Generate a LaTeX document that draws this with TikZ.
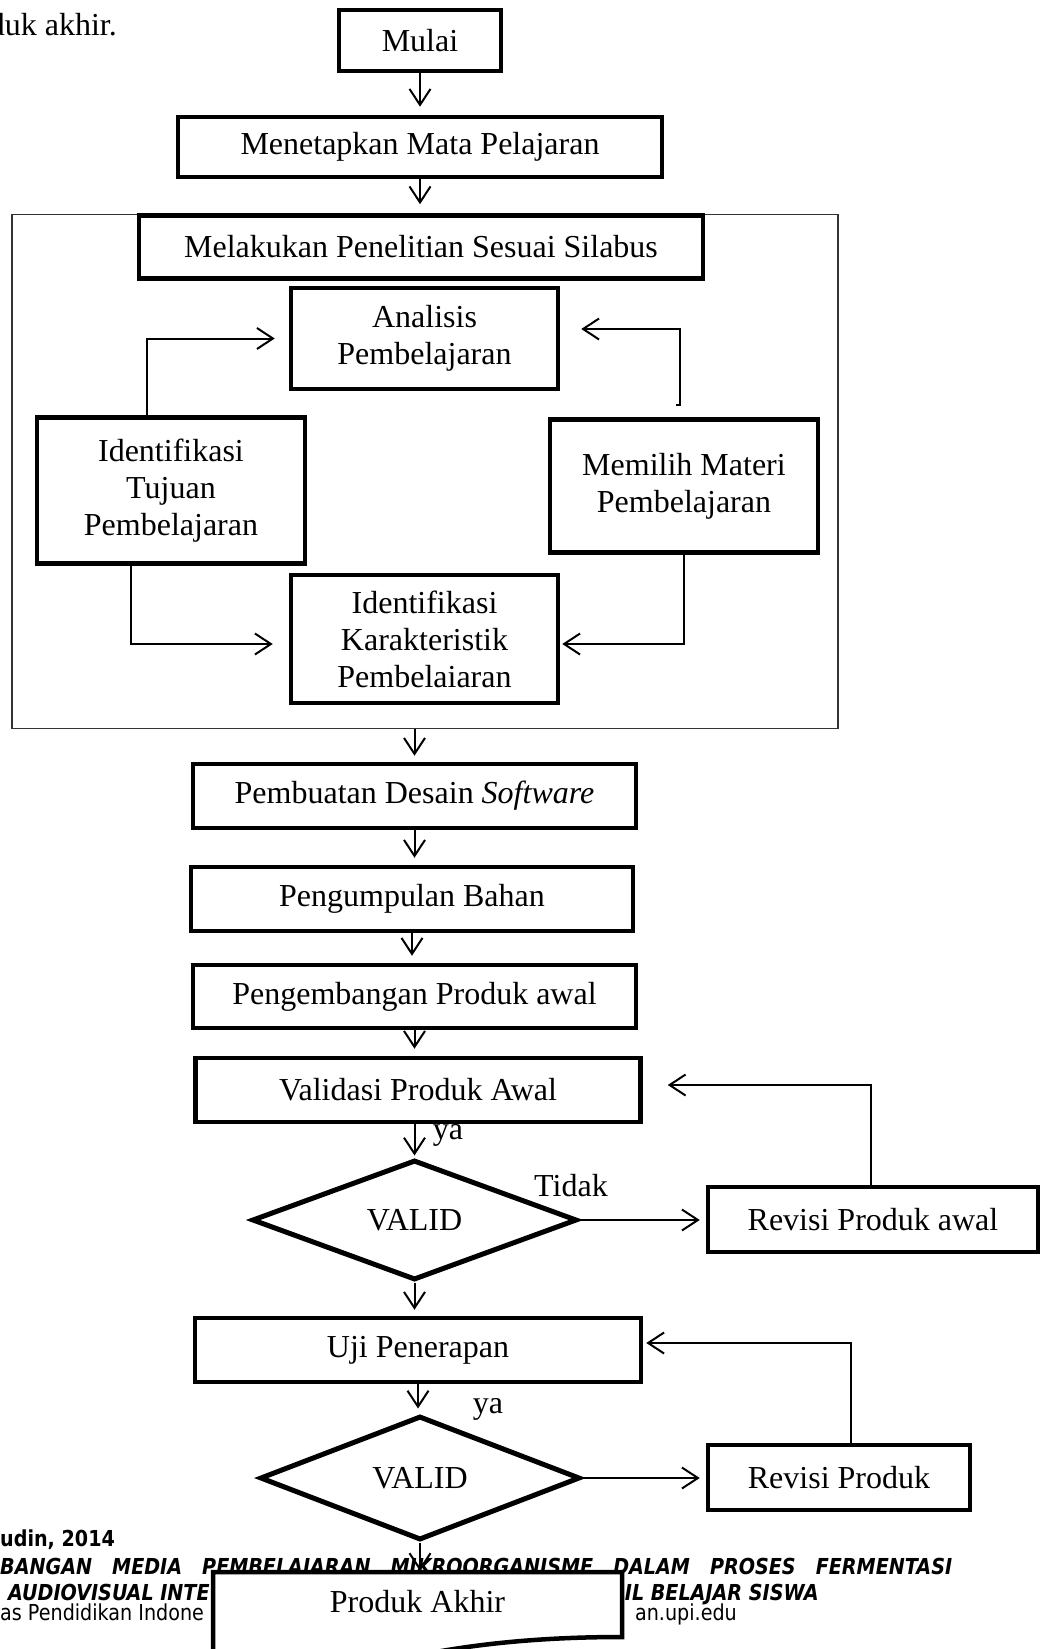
\documentclass[tikz,border=0pt]{standalone}
\usepackage{fontspec}
\setmainfont{Liberation Serif}
\newfontfamily\footfont{DejaVu Sans}[FakeStretch=0.87,BoldFont={DejaVu Sans Bold},ItalicFont={DejaVu Sans Oblique},BoldItalicFont={DejaVu Sans Bold Oblique}]
\usetikzlibrary{shapes.geometric,arrows.meta,calc}
\tikzset{
  box/.style={draw,line width=4.5pt,fill=white,inner sep=0pt,align=center,font=\fontsize{32}{37}\selectfont},
  dia/.style={draw,diamond,line width=5pt,fill=white,inner sep=0pt,aspect=2.7,font=\fontsize{32}{37}\selectfont},
  arr/.style={line width=2pt,-{Straight Barb[length=16pt,width=21pt]}},
  lbl/.style={inner sep=0pt,font=\fontsize{32}{37}\selectfont},
  foot/.style={inner sep=0pt,font=\footfont\fontsize{22}{26}\selectfont},
  framebox/.style={draw=black!80,line width=1.5pt,inner sep=0pt},
}
\begin{document}
\begin{tikzpicture}[x=1pt,y=-1pt]
\useasboundingbox (0,0) rectangle (1041,1649);
\fill[white] (0,0) rectangle (1041,1649);

% text cut at the top-left (as in the reference)
\node[lbl,anchor=base east] (txt) at (117,35) {duk akhir.};

% footer
\node[foot,anchor=base west] (f1) at (0,1546) {\bfseries udin, 2014};
\node[foot,anchor=base west] (f2) at (0,1574) {\bfseries\itshape\makebox[952pt][s]{BANGAN MEDIA PEMBELAJARAN MIKROORGANISME DALAM PROSES FERMENTASI}};
\node[foot,anchor=base west] (f3a) at (8,1600) {\bfseries\itshape AUDIOVISUAL INTE};
\node[foot,anchor=base east] (f3b) at (819,1600) {\bfseries\itshape IL BELAJAR SISWA};
\node[foot,anchor=base west] (f4a) at (0,1620) {as Pendidikan Indone};
\node[foot,anchor=base east] (f4b) at (737,1620) {an.upi.edu};

% nodes
\node[box,minimum width=162pt,minimum height=61pt] (mulai) at (420,40.5) {Mulai};
\node[box,minimum width=484pt,minimum height=60pt] (menet) at (420,147) {Menetapkan Mata Pelajaran};
\node[framebox,minimum width=826pt,minimum height=514pt] (frame) at (425,471.5) {};
\node[box,minimum width=564pt,minimum height=63pt] (melak) at (421,247) {Melakukan Penelitian Sesuai Silabus};
\node[box,minimum width=267pt,minimum height=101pt] (anal) at (424.5,338.5) {Analisis\\Pembelajaran};
\node[box,minimum width=268pt,minimum height=146pt] (ident) at (171,490.5) {Identifikasi\\Tujuan\\Pembelajaran};
\node[box,minimum width=268pt,minimum height=133pt] (memil) at (684,486) {Memilih Materi\\Pembelajaran};
\node[box,minimum width=267pt,minimum height=128pt] (karak) at (424.5,639) {Identifikasi\\Karakteristik\\Pembelaiaran};
\node[box,minimum width=443pt,minimum height=64pt] (pemb) at (414.5,796) {Pembuatan Desain \textit{Software}};
\node[box,minimum width=442pt,minimum height=64pt] (pengu) at (412,899) {Pengumpulan Bahan};
\node[box,minimum width=443pt,minimum height=63pt] (penge) at (414.5,996.5) {Pengembangan Produk awal};
\node[box,minimum width=445pt,minimum height=64pt] (valid) at (418,1090) {Validasi Produk Awal};
\node[dia,minimum width=325pt,minimum height=120pt] (d1) at (414.5,1220) {VALID};
\node[box,minimum width=330pt,minimum height=65pt] (rpa) at (873,1219.5) {Revisi Produk awal};
\node[box,minimum width=446pt,minimum height=64pt] (uji) at (418,1350) {Uji Penerapan};
\node[dia,minimum width=320pt,minimum height=124pt] (d2) at (420,1478) {VALID};
\node[box,minimum width=262pt,minimum height=65pt] (rp) at (839,1477.5) {Revisi Produk};

% final product (document shape, cut by the page edge)
\filldraw[line width=4.5pt,fill=white] (213,1700) -- (213,1572) -- (622,1572) -- (622,1637)
  .. controls (560,1637) and (490,1641) .. (420,1655);
\node[lbl,minimum width=409pt,minimum height=58pt,anchor=north] (pa) at (417.5,1572) {Produk Akhir};

% labels
\node[lbl,anchor=base] (ya1) at (448,1139) {ya};
\node[lbl,anchor=base] (tidak) at (571,1196) {Tidak};
\node[lbl,anchor=base] (ya2) at (488,1413) {ya};

% connectors
\draw[arr,shorten >=8pt] (mulai.south) -- (mulai.south |- menet.north);
\draw[arr,shorten >=9pt] (menet.south) -- (menet.south |- melak.north);
\draw[arr,shorten >=14pt] ([xshift=-24pt]ident.north) |- (anal.west);
\coordinate (hook) at ([xshift=-8pt,yshift=12pt]memil.north);
\draw[arr,shorten >=21pt] (hook) -- ++(4,0) |- ([yshift=9.5pt]anal.east);
\draw[arr,shorten >=16pt] ([xshift=-40pt]ident.south) |- ([yshift=-5pt]karak.west);
\draw[arr,shorten >=2pt] (memil.south) |- ([yshift=-5pt]karak.east);
\draw[arr,shorten >=6pt] (pemb.north |- frame.south) -- (pemb.north);
\draw[arr,shorten >=7pt] (pemb.south) -- (pemb.south |- pengu.north);
\draw[arr,shorten >=7pt] (pengu.south) -- (pengu.south |- penge.north);
\draw[arr,shorten >=7pt] (penge.south) -- (penge.south |- valid.north);
\draw[arr,shorten >=2pt] (d1.north |- valid.south) -- (d1.north);
\draw[arr,shorten >=6pt] (d1.south) -- (d1.south |- uji.north);
\draw[arr,shorten >=5pt] (uji.south) -- (uji.south |- d2.north);
\draw[arr,shorten >=6pt] (d1.east) -- (rpa.west |- d1.east);
\draw[arr,shorten >=25pt] ([xshift=-2pt]rpa.north) |- ([yshift=5pt]valid.east);
\draw[arr,shorten >=6pt] (d2.east) -- (rp.west |- d2.east);
\draw[arr,shorten >=3pt] ([xshift=12pt]rp.north) |- ([yshift=7pt]uji.east);
\draw[arr,shorten >=1pt] (d2.south) -- (d2.south |- pa.north);
\end{tikzpicture}
\end{document}
